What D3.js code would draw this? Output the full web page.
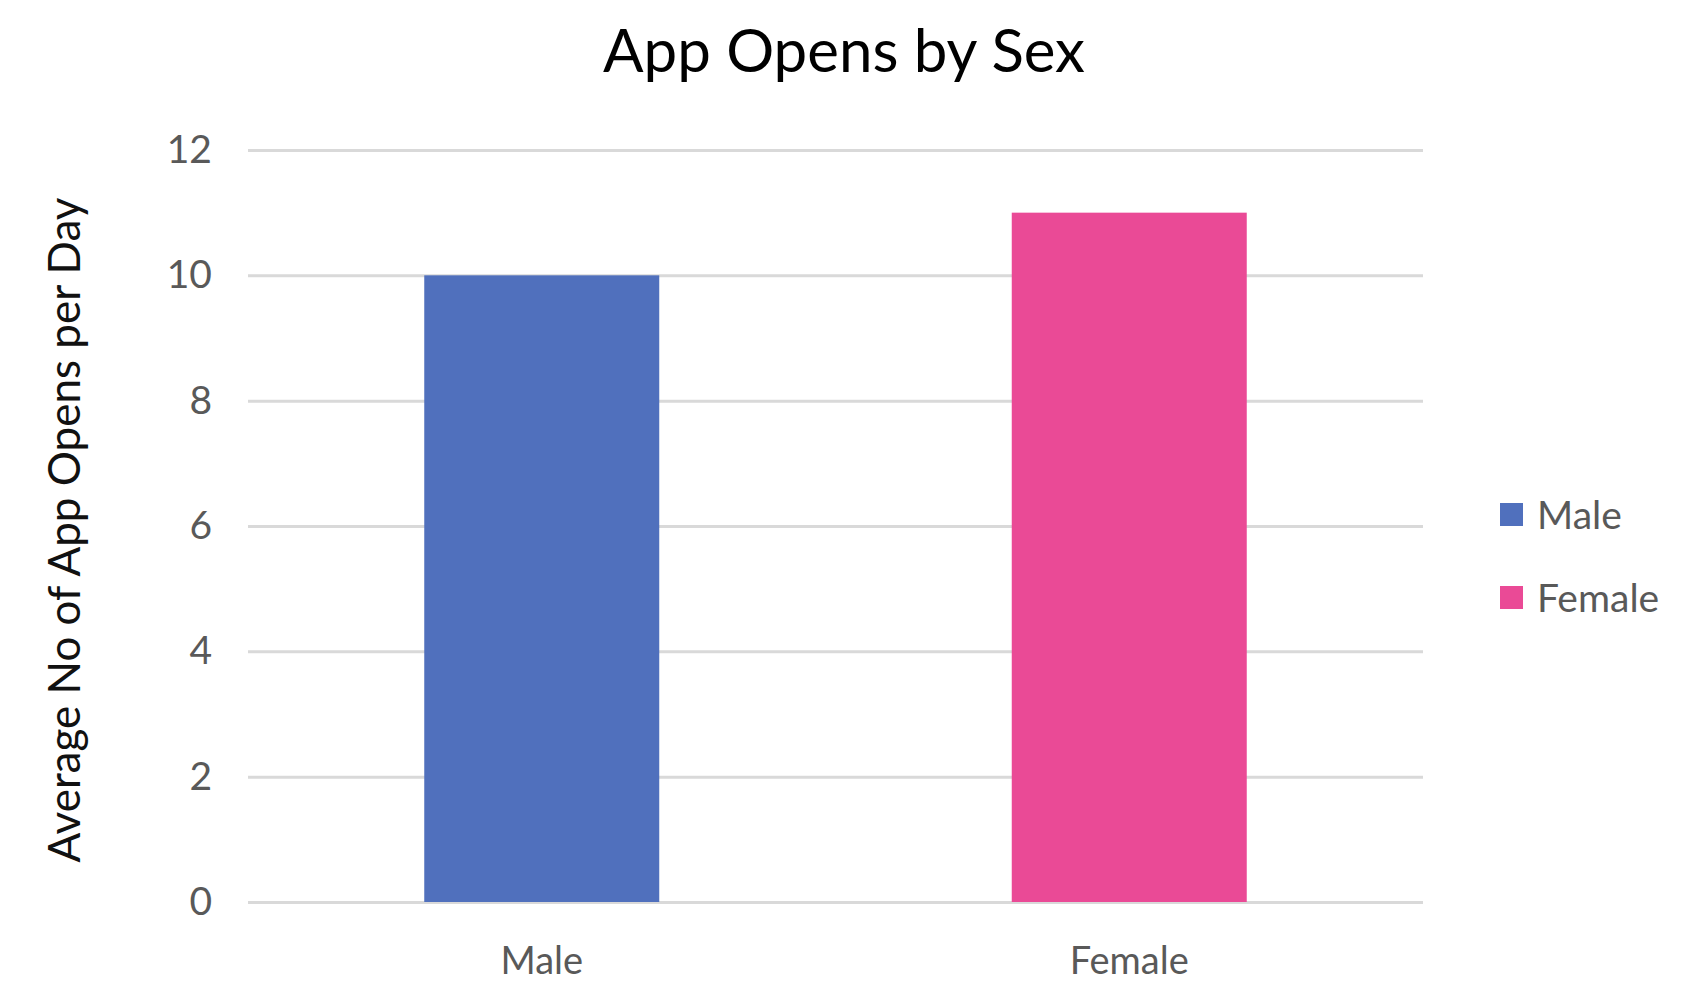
<!DOCTYPE html>
<html>
<head>
<meta charset="utf-8">
<script src="https://cdn.jsdelivr.net/npm/d3@7"></script>
<style>
  body { margin: 0; background: #fff; }
  text { font-family: Lato, "Open Sans", sans-serif; }
</style>
</head>
<body>
<svg id="chart"></svg>
<script>
const categories = ["Male", "Female"];
const values = [10, 11];
const colors = ["#5070BD", "#EA4A96"];
const yTicks = [0, 2, 4, 6, 8, 10, 12];

const width = 1692;
const height = 1006;
const margin = {top: 150, right: 269, bottom: 104, left: 248};

const svg = d3.select("#chart")
    .attr("width", width)
    .attr("height", height);

// band scale: bars about 40% of each step
const x = d3.scaleBand(categories, [margin.left, width - margin.right])
    .paddingInner(0.6)
    .paddingOuter(0.3);
const y = d3.scaleLinear([0, 12], [height - margin.bottom, margin.top]);

// gridlines + tick labels
const yAxis = g => g
    .attr("transform", `translate(${margin.left},0)`)
    .call(d3.axisLeft(y).tickValues(yTicks).tickSize(-(width - margin.left - margin.right)).tickPadding(36))
    .call(g => g.select(".domain").remove())
    .call(g => g.selectAll(".tick line").attr("stroke", "#d9d9d9").attr("stroke-width", 3))
    .call(g => g.selectAll(".tick text")
        .attr("fill", "#595959")
        .attr("font-size", 39)
        .attr("font-family", "Lato, sans-serif"));

svg.append("g").call(yAxis);

svg.append("g")
    .selectAll("rect")
    .data(values)
    .join("rect")
    .attr("x", (d, i) => x(categories[i]))
    .attr("width", x.bandwidth())
    .attr("y", d => y(d))
    .attr("height", d => y(0) - y(d))
    .attr("fill", (d, i) => colors[i]);

const xAxis = g => g
    .attr("transform", `translate(0,${height - margin.bottom})`)
    .call(d3.axisBottom(x).tickSize(0).tickPadding(45))
    .call(g => g.select(".domain").remove())
    .call(g => g.selectAll(".tick text")
        .attr("fill", "#595959")
        .attr("font-size", 38)
        .attr("font-family", "Lato, sans-serif"));

svg.append("g").call(xAxis);

// title
svg.append("text")
    .attr("x", 844)
    .attr("y", 72)
    .attr("text-anchor", "middle")
    .attr("font-size", 60)
    .attr("fill", "#000")
    .text("App Opens by Sex");

// y axis title
svg.append("text")
    .attr("transform", `translate(80,${(y(0) + y(12)) / 2 + 4}) rotate(-90)`)
    .attr("text-anchor", "middle")
    .attr("font-size", 44)
    .attr("fill", "#111")
    .text("Average No of App Opens per Day");

// legend
const legend = svg.append("g")
    .selectAll("g")
    .data(categories)
    .join("g")
    .attr("transform", (d, i) => `translate(1500,${515 + i * 83})`);

legend.append("rect")
    .attr("x", 0)
    .attr("y", -12)
    .attr("width", 23)
    .attr("height", 23)
    .attr("fill", (d, i) => colors[i]);

legend.append("text")
    .attr("x", 37)
    .attr("y", 0)
    .attr("dy", "0.35em")
    .attr("font-size", 39)
    .attr("fill", "#595959")
    .text(d => d);
</script>
</body>
</html>
